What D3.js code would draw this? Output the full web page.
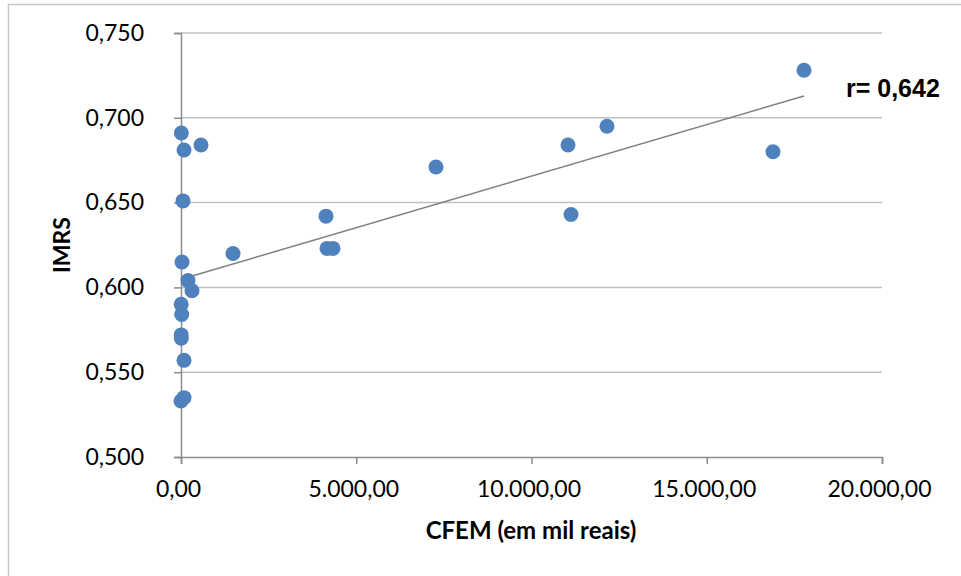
<!DOCTYPE html>
<html>
<head>
<meta charset="utf-8">
<script src="https://cdn.jsdelivr.net/npm/d3@7"></script>
<style>
  body { margin: 0; background: #fff; }
  svg { display: block; }
</style>
</head>
<body>
<div id="chart"></div>
<script>
// CFEM (em mil reais) x IMRS, one point per municipality
const cfem = [10, 86, 571, 57, 29, 200, 314, 5, 20, 5, 8, 86, 86, 0,
              1484, 4137, 4165, 4337, 7275, 11041, 11127, 12154, 16890, 17775];
const imrs = [0.691, 0.681, 0.684, 0.651, 0.615, 0.604, 0.598, 0.590, 0.584, 0.572, 0.570, 0.557, 0.535, 0.533,
              0.620, 0.642, 0.623, 0.623, 0.671, 0.684, 0.643, 0.695, 0.680, 0.728];
const xTicks = [0, 5000, 10000, 15000, 20000];
const yTicks = [0.5, 0.55, 0.6, 0.65, 0.7, 0.75];
const rLabel = "r= 0,642";

const width = 961, height = 576;
const br = d3.formatLocale({decimal: ",", thousands: ".", grouping: [3], currency: ["R$", ""]});

const svg = d3.select("#chart").append("svg")
    .attr("width", width)
    .attr("height", height);

// outer chart frame (only top and left edges are visible)
svg.append("path")
    .attr("d", "M8.5,576 L8.5,4.5 L961,4.5")
    .attr("fill", "none")
    .attr("stroke", "#c8c8c8")
    .attr("stroke-width", 1.5);

const x = d3.scaleLinear().domain([0, 20000]).range([181, 882]);
const y = d3.scaleLinear().domain([0.5, 0.75]).range([457, 33]);

// horizontal gridlines
svg.append("g").selectAll("line")
    .data(yTicks.slice(1))
    .enter().append("line")
    .attr("x1", x(0)).attr("x2", x(20000))
    .attr("y1", d => y(d)).attr("y2", d => y(d))
    .attr("stroke", "#c0c0c0")
    .attr("stroke-width", 1.5);

// y axis
const yAxis = svg.append("g")
    .attr("transform", "translate(" + x(0) + ",0)")
    .call(d3.axisLeft(y).tickValues(yTicks).tickSize(7).tickPadding(30)
        .tickFormat(br.format(".3f")));
// x axis
const xAxis = svg.append("g")
    .attr("transform", "translate(0," + y(0.5) + ")")
    .call(d3.axisBottom(x).tickValues(xTicks).tickSize(7).tickPadding(17)
        .tickFormat(br.format(",.2f")));

[yAxis, xAxis].forEach(function (ax) {
    ax.select(".domain").attr("stroke", "#8c8c8c").attr("stroke-width", 1.5);
    ax.selectAll(".tick line").attr("stroke", "#8c8c8c").attr("stroke-width", 1.5);
    ax.selectAll(".tick text")
        .style("font-family", "Lato, sans-serif")
        .style("font-size", "23px")
        .attr("fill", "#000");
});
xAxis.selectAll(".tick text").attr("dx", -3);

// linear trend line (least squares)
const mx = d3.mean(cfem), my = d3.mean(imrs);
const sxy = d3.sum(cfem, (v, i) => (v - mx) * (imrs[i] - my));
const sxx = d3.sum(cfem, v => (v - mx) * (v - mx));
const slope = sxy / sxx, intercept = my - slope * mx;
const xr = d3.extent(cfem);
svg.append("line")
    .attr("x1", x(xr[0])).attr("y1", y(intercept + slope * xr[0]))
    .attr("x2", x(xr[1])).attr("y2", y(intercept + slope * xr[1]))
    .attr("stroke", "#7f7f7f")
    .attr("stroke-width", 1.5);

// points
svg.append("g").selectAll("circle")
    .data(cfem.map((v, i) => [v, imrs[i]]))
    .enter().append("circle")
    .attr("cx", d => x(d[0]))
    .attr("cy", d => y(d[1]))
    .attr("r", 7.5)
    .attr("fill", "#4f81bd");

// axis titles
svg.append("text")
    .attr("transform", "translate(70,245) rotate(-90)")
    .attr("text-anchor", "middle")
    .style("font-family", "Lato, sans-serif")
    .style("font-size", "23px")
    .style("font-weight", "bold")
    .text("IMRS");
svg.append("text")
    .attr("x", 531).attr("y", 539)
    .attr("text-anchor", "middle")
    .style("font-family", "Lato, sans-serif")
    .style("font-size", "24px")
    .style("font-weight", "bold")
    .text("CFEM (em mil reais)");

// correlation label
svg.append("text")
    .attr("x", 846).attr("y", 97)
    .style("font-family", "'Liberation Sans', Arial, sans-serif")
    .style("font-size", "25px")
    .style("font-weight", "bold")
    .text(rLabel);
</script>
</body>
</html>
